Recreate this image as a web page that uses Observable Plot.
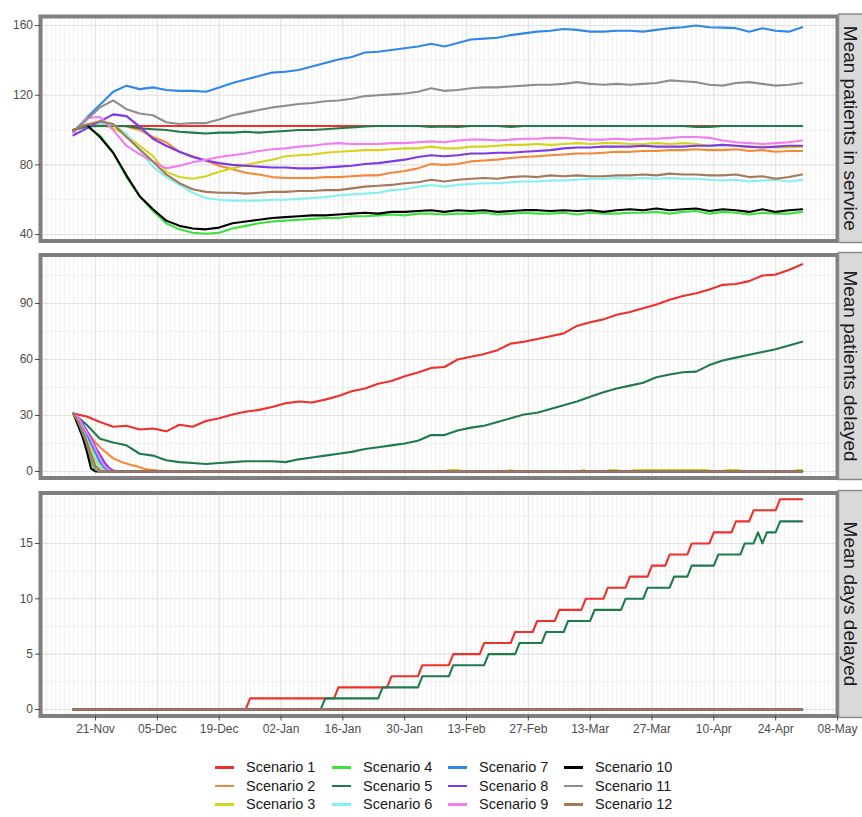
<!DOCTYPE html>
<html><head><meta charset="utf-8">
<script src="https://cdn.jsdelivr.net/npm/d3@7"></script>
<script src="https://cdn.jsdelivr.net/npm/@observablehq/plot@0.6"></script>
<style>
body{margin:0;background:#fff;font-family:"Liberation Sans",Arial,sans-serif;}
#wrap{position:relative;width:862px;height:817px;overflow:hidden;background:#fff;}
#wrap svg{position:absolute;left:0;}
#legend{position:absolute;left:215px;top:758px;display:grid;grid-template-columns:117px 116px 116px 120px;grid-template-rows:18.5px 18.5px 18.5px;grid-auto-flow:column;font-size:14.5px;color:#1a1a1a;}
.item{display:flex;align-items:center;white-space:nowrap;}
.key{display:inline-block;width:19px;height:2.5px;margin-right:12px;}
</style></head><body>
<div id="wrap"><div id="legend"></div></div>
<script>
// ---------- categories ----------
const scenarios = ["Scenario 1","Scenario 2","Scenario 3","Scenario 4","Scenario 5","Scenario 6",
  "Scenario 7","Scenario 8","Scenario 9","Scenario 10","Scenario 11","Scenario 12"];
const colors = ["#f0302a","#f4893a","#d4d41e","#3ee03e","#1f7a4c","#85f0f0",
  "#2f88e8","#7d3ae4","#f07ef0","#000000","#8e8e8e","#a6785a"];
const stripLabels = ["Mean patients in service","Mean patients delayed","Mean days delayed"];
const startDay = "2020-11-16";
const xTickDates = ["2020-11-21","2020-12-05","2020-12-19","2021-01-02","2021-01-16","2021-01-30",
  "2021-02-13","2021-02-27","2021-03-13","2021-03-27","2021-04-10","2021-04-24","2021-05-08"];
const yTicksTop = [40,80,120,160], yMinorTop = [60,100,140];
const yTicksMid = [0,30,60,90], yMinorMid = [15,45,75,105];
const yTicksBot = [0,5,10,15], yMinorBot = [2.5,7.5,12.5,17.5];

// ---------- panel 1: mean patients in service (day offsets from start) ----------
const daysTop = [0,3,6,9,12,15,18,21,24,27,30,33,36,39,42,45,48,51,54,57,60,63,66,69,72,75,78,81,84,87,
  90,93,96,99,102,105,108,111,114,117,120,123,126,129,132,135,138,141,144,147,150,153,156,159,162,165];
const svc1 = [100,102.3,102.3,102.3,102.3,102.3,102.3,102.3,102.3,102.3,102.3,102.3,102.3,102.3,102.3,102.3,
  102.3,102.3,102.3,102.3,102.3,102.3,102.3,102.3,102.3,102.3,102.3,102.3,102.3,102.3,102.3,102.3,102.3,102.3,
  102.3,102.3,102.3,102.3,102.3,102.3,102.3,102.3,102.3,102.3,102.3,102.3,102.3,102.3,102.3,102.3,102.3,102.3,
  102.3,102.3,102.3,102.3];
const svc2 = [100,103,103,102.5,102,100,96,93,87.5,85,82.5,79.5,77.5,75.5,74.5,73,72.5,72.5,72.5,73,73,73.5,74,74,
  75.5,76.5,78,80.5,80,80.5,82,82.5,83,84,84.5,85,85.5,86,86.5,86.5,87,87.5,87.5,88,88,88.5,88.5,89,88.5,88.5,
  89,88,88.5,87.5,88,88];
const svc3 = [100,102,103,101,97,91,85,76,73,72,73.5,76,78,80,81.5,83,85,85.5,86,87,87.5,88,88.5,88.5,89,89.5,
  89.5,90.5,89.5,89.5,90.5,90.5,91,91.5,91.5,92,91.5,92,92.5,92,92.5,92.5,92,92,92.5,92,92.5,92,91,91.5,91,90,
  90.5,90,90,90.5];
const svc4 = [100,102,97,87,73,62,53.5,46.5,43,41,40.5,41,43.5,45,46.5,47.5,48,48.5,49,49.5,49.5,50.5,50.5,51,
  51.5,51,52,52,51.5,52,52,52.5,51.5,52,52.5,52,52,52.5,51.5,52.5,52,52,52.5,52.5,53,52,53,53.5,52,53,52.5,
  51.5,52.5,52,52,53];
const svc5 = [100,102,102.3,102.3,102.3,101,100.5,100,99,98.5,98,98.5,98.5,99,98.5,99,99.5,100,100,100.5,101,
  101.5,102,102.3,102.3,102.3,102.3,101.8,102,101.8,102.3,102.3,102.3,101.8,102.3,102.3,102.3,102.3,102.3,102.3,
  102.3,102.3,102.3,102.3,102.3,102.3,102.3,101.8,101.8,102.3,102.3,102.3,102.3,102.3,102.3,102.3];
const svc6 = [100,103,104,103,98,88,79,73,68.5,64,61,60,59.5,59.5,59.5,60,60,60.5,61,61.5,62.5,63,63.5,64,65.5,
  66,67.5,68.5,67.5,68.5,69,69.5,69.5,70,70.5,70.5,71,71,71.5,72,72,72.5,72,72.5,72,72.5,72,72,71.5,71,71.5,
  70.5,71,71.5,70.5,71.5];
const svc7 = [99,107,114.5,122,125.5,123.5,124.5,123,122.5,122.5,122,124.5,127,129,131,133,133.5,134.5,136.5,
  138.5,140.5,142,144.5,145,146,147,148,149.5,148,150,152,152.5,153,154.5,155.5,156.5,157,158,157.5,156.5,
  156.5,157,157,156.5,157.5,158.5,159,160,159,158.8,158.5,156.5,158.5,157,156.5,159];
const svc8 = [97,101,105,109,108,102,95,91,87.5,84.5,82.5,81,80,79.5,79,78.5,78.5,78,78,78.5,79,79.5,80.5,81,82,
  83,84.5,85.5,85,85.5,86.5,86.5,87,87,87.5,88,88.5,89.5,90,90,90.5,90.5,90.5,91,90.5,90.5,90.5,91,91,91.5,
  91,90.5,90,90.5,91,91];
const svc9 = [98,107,107.5,100,91,86,82,78,79.5,81.5,83,84.5,85.5,86.5,88,89,89.5,90.5,91,92,92.5,92,92,92,92.5,
  92.5,93,93.5,93,94,94.5,94.5,94,94.5,95,95,95.5,95.5,95,94.5,94.5,95,94.5,95,95,95.5,96,96,95.5,94,93,92.5,
  92,92.5,93,94];
const svc10 = [100,103,96,87,74,62,54.5,48,45,43.5,43,44,46.5,47.5,48.5,49.5,50,50.5,51,51,51.5,52,52.5,52,53,
  53,53.5,54,53,54,53.5,54,53,53.5,54,54,53.5,54,53.5,54,53,54,54.5,54,55,54,54.5,55,53.5,54.5,54,53,54.5,53,
  54,54.5];
const svc11 = [99,106,113,117,112,109.5,108.5,104.5,103.5,104,104,106,108.5,110,111.5,113,114,115,115.5,116.5,
  117,118,119.5,120,120.5,121,122,124,122.5,123,124,124.5,124.5,125,125.5,126,126,126.5,127.5,126.5,126,126.5,
  126,126.5,127,128.5,128,127.5,126,125.5,127,127.5,126.5,125.5,126,127];
const svc12 = [100,103,105,103.5,96,89,82,74.5,69.5,66,64.5,64,64,63.5,64,64.5,64.5,65,65,65.5,65.5,66.5,67.5,
  68,68.5,69.5,70,71.5,70.5,71.5,72,72.5,72,73,73.5,73,74,73.5,74,73.5,73.5,74,74,74.5,74,75,74.5,74.5,74,74,
  74.5,73,73.5,72,73,74.5];

// ---------- panel 2: mean patients delayed ----------
const dly1 = [31,29.5,26.5,24,24.5,22.5,23,21.5,25,24,27,28.5,30.5,32,33,34.5,36.5,37.5,37,38.5,40.5,43,44.5,
  47,48.5,51,53,55.5,56,60,61.5,63,65,68.5,69.5,71,72.5,74,78,80,81.5,84,85.5,87.5,89.5,92,94,95.5,97.5,100,
  100.5,102,105,105.5,108,111];
const dly5 = [31,25,17.5,15.5,14,9.5,8.5,6,5,4.5,4,4.5,5,5.5,5.5,5.5,5,6.5,7.5,8.5,9.5,10.5,12,13,14,15,16.5,
  19.5,19.5,22,23.5,24.5,26.5,28.5,30.5,31.5,33.5,35.5,37.5,40,42.5,44.5,46,47.5,50.5,52,53.2,53.5,57,59.5,
  61,62.5,64,65.5,67.5,69.5];
const dlyDays2 = [0,1,2,3,4,5,6,7,8,9,10,11,12,13,14,15,16,17,18,19,20,21,165];
const dly2 = [31,28,25,21.5,18.5,15.5,13,11,9,7,6,5,4.3,3.5,3,2.3,1.5,1,0.8,0.5,0.3,0,0];
const dlyDays3 = [0,1,2,3,4,5,6,7,8,84,85,87,88,98,99,100,114.5,115.5,116.5,120.5,121.5,123,124,
  126,127,143.5,144.5,147,148,150.5,151.5,163,164,165];
const dly3 = [31,28,23,18,12,6,2,0.5,0,0,0.8,0.8,0,0,0.8,0,0,0.8,0,0,0.8,0.8,0,0,0.8,0.8,0,0,0.8,0.8,0,0,0.8,0.8];
const dlyDays4 = [0,1,2,3,4,5,6,165];
const dly4 = [31,26,20,13,5,0.5,0,0];
const dlyDays6 = [0,1,2,3,4,5,6,7,8,165];
const dly6 = [31,28,24,19,14,8,3,1,0,0];
const dlyDays7 = [0,1,2,3,4,5,6,7,8,9,165];
const dly7 = [31,28,25,20,15,10,5,2,0.5,0,0];
const dlyDays8 = [0,1,2,3,4,5,6,7,8,9,10,165];
const dly8 = [31,29,26,22,18,13,9,5,2,0.5,0,0];
const dlyDays9 = [0,1,2,3,4,5,6,7,8,9,165];
const dly9 = [31,29,25,21,17,12,7,3,1,0,0];
const dlyDays10 = [0,1,2,3,4,5,165];
const dly10 = [31,25,19,11,1.5,0,0];
const dlyDays11 = [0,1,2,3,4,5,6,165];
const dly11 = [31,27,21,15,7,1,0,0];
const dlyDays12 = [0,1,2,3,4,5,6,7,165];
const dly12 = [31,27,22,16,9,3,0.5,0,0];

// ---------- panel 3: mean days delayed ----------
const ddyDays1 = [0,39,40,59,60,71,72,78,79,85,86,92,93,99,100,104,105,109,110,115,116,120,121,125,126,130,
  131,134,135,139,140,144,145,149,150,153,154,159,160,165];
const ddy1 = [0,0,1,1,2,2,3,3,4,4,5,5,6,6,7,7,8,8,9,9,10,10,11,11,12,12,13,13,14,14,15,15,16,16,17,17,18,18,19,19];
const ddyDays5 = [0,56,57,69,70,78,79,85,86,93,94,100,101,106,107,111,112,117,118,124,125,129,130,135,136,139,
  140,145,146,151,152,154,155,156,157,159,160,165];
const ddy5 = [0,0,1,1,2,2,3,3,4,4,5,5,6,6,7,7,8,8,9,9,10,10,11,11,12,12,13,13,14,14,15,15,16,15,16,16,17,17];
const ddyZeroDays = [0,165];
const ddyZero = [0,0];

// ---------- build tables ----------
const DAY = 864e5;
const t0 = Date.parse(startDay + "T00:00:00Z");
function series(idx, days, vals) {
  return days.map((d, i) => ({scenario: scenarios[idx], date: new Date(t0 + d * DAY), value: vals[i]}));
}
const svc = [svc1,svc2,svc3,svc4,svc5,svc6,svc7,svc8,svc9,svc10,svc11,svc12];
const topRows = svc.flatMap((v, i) => series(i, daysTop, v));
const midRows = [
  series(0, daysTop, dly1), series(1, dlyDays2, dly2), series(2, dlyDays3, dly3), series(3, dlyDays4, dly4),
  series(4, daysTop, dly5), series(5, dlyDays6, dly6), series(6, dlyDays7, dly7), series(7, dlyDays8, dly8),
  series(8, dlyDays9, dly9), series(9, dlyDays10, dly10), series(10, dlyDays11, dly11), series(11, dlyDays12, dly12)
].flat();
const botRows = scenarios.flatMap((s, i) =>
  i === 0 ? series(0, ddyDays1, ddy1) : i === 4 ? series(4, ddyDays5, ddy5) : series(i, ddyZeroDays, ddyZero));

const xTicks = xTickDates.map(s => new Date(s + "T00:00:00Z"));
const xDomain = [new Date(Date.UTC(2020, 10, 8, 13)), new Date(Date.UTC(2021, 4, 8, 0))];
const minorDays = d3.utcDay.range(xDomain[0], xDomain[1]);

function panel({rows, yDomain, yTicks, yMinor, height, mt, mb, xAxis, strip, top}) {
  const p = Plot.plot({
    width: 862, height, marginLeft: 40, marginRight: 25, marginTop: mt, marginBottom: mb,
    style: {fontFamily: "Liberation Sans, Arial, sans-serif", fontSize: "12px", color: "#4d4d4d", overflow: "visible"},
    x: {type: "utc", domain: xDomain, axis: null},
    y: {domain: yDomain, axis: null},
    color: {domain: scenarios, range: colors},
    marks: [
      Plot.ruleX(minorDays, {stroke: "#eeeeee", strokeWidth: 0.8}),
      Plot.ruleY(yMinor, {stroke: "#f0f0f0", strokeWidth: 1}),
      Plot.ruleX(xTicks, {stroke: "#e2e2e2", strokeWidth: 1.1}),
      Plot.ruleY(yTicks, {stroke: "#e2e2e2", strokeWidth: 1.1}),
      Plot.line(rows, {x: "date", y: "value", z: "scenario", stroke: "scenario", strokeWidth: 2.1}),
      Plot.frame({stroke: "#7f7f7f", strokeWidth: 4}),
      Plot.axisY({ticks: yTicks, tickSize: 5, tickPadding: 2.5, label: null}),
      xAxis ? Plot.axisX({ticks: xTicks, tickSize: 5, tickPadding: 3, tickFormat: d3.utcFormat("%d-%b"), label: null}) : null
    ]
  });
  const s = d3.select(p);
  const innerTop = mt, innerBot = height - mb;
  s.append("rect").attr("x", 838.5).attr("y", innerTop - 2).attr("width", 26).attr("height", innerBot - innerTop + 4)
    .attr("fill", "#d9d9d9").attr("stroke", "#8a8a8a").attr("stroke-width", 1.5);
  s.append("text").attr("transform", `translate(851,${(innerTop + innerBot) / 2}) rotate(90)`)
    .attr("text-anchor", "middle").attr("dy", "0.35em").attr("fill", "#1a1a1a")
    .style("font-size", "19px").style("font-family", "Liberation Sans, Arial, sans-serif").text(strip);
  p.style.top = top + "px";
  return p;
}

const wrap = document.getElementById("wrap");
wrap.appendChild(panel({rows: topRows, yDomain: [36.3, 165.2], yTicks: yTicksTop, yMinor: yMinorTop,
  height: 244, mt: 16, mb: 3.5, xAxis: false, strip: stripLabels[0], top: 0}));
wrap.appendChild(panel({rows: midRows, yDomain: [-3.5, 116], yTicks: yTicksMid, yMinor: yMinorMid,
  height: 238, mt: 10.5, mb: 4.5, xAxis: false, strip: stripLabels[1], top: 244}));
wrap.appendChild(panel({rows: botRows, yDomain: [-0.59, 19.56], yTicks: yTicksBot, yMinor: yMinorBot,
  height: 262, mt: 10.5, mb: 28.5, xAxis: true, strip: stripLabels[2], top: 482}));

const legend = document.getElementById("legend");
scenarios.forEach((s, i) => {
  const it = document.createElement("div"); it.className = "item";
  const k = document.createElement("span"); k.className = "key"; k.style.background = colors[i];
  const t = document.createElement("span"); t.textContent = s;
  it.appendChild(k); it.appendChild(t); legend.appendChild(it);
});
</script></body></html>
